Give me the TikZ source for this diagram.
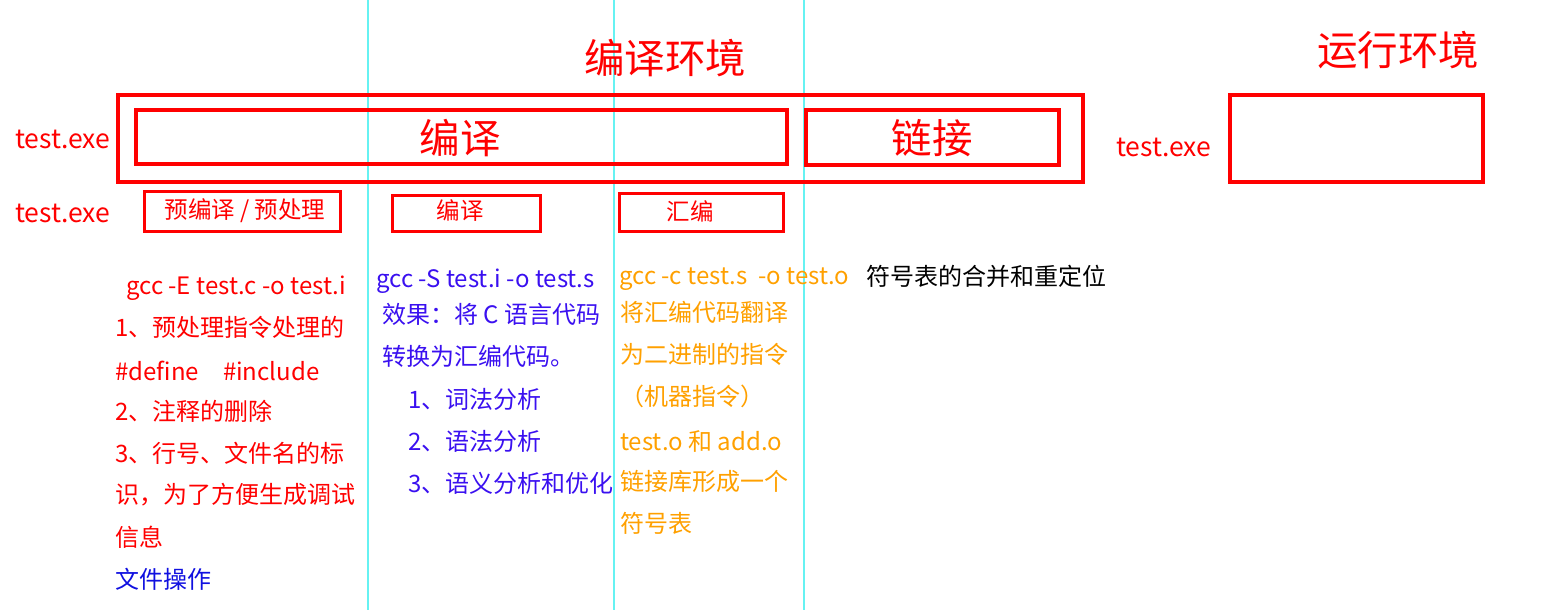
\documentclass[tikz,border=0pt]{standalone}
\usepackage{fontspec}
\setmainfont{Noto Sans CJK SC}
\definecolor{cred}{HTML}{FF0000}
\definecolor{cblue}{HTML}{3A10F0}
\definecolor{cpure}{HTML}{1010E0}
\definecolor{corange}{HTML}{FFA000}
\definecolor{ccyan}{HTML}{66F2F2}
\tikzset{
  guide/.style={draw=ccyan, line width=1.5pt},
  bigbox/.style={draw=cred, line width=4pt},
  midbox/.style={draw=cred, line width=3.5pt},
  smallbox/.style={draw=cred, line width=3pt},
  txt/.style={anchor=west, inner sep=0pt, font=\fontsize{24}{26}\selectfont},
  exe/.style={anchor=west, inner sep=0pt, text=cred, font=\fontsize{26.5}{28}\selectfont},
  stage/.style={inner sep=0pt, text=cred, font=\fontsize{23.5}{25}\selectfont},
  title/.style={inner sep=0pt, text=cred, font=\fontsize{40.5}{42}\selectfont},
}
\begin{document}
\begin{tikzpicture}[x=1pt,y=-1pt]
\useasboundingbox (0,0) rectangle (1545,610);
% guide lines
\coordinate (g1t) at (368,0); \coordinate (g1b) at (368,610);
\coordinate (g2t) at (614,0); \coordinate (g2b) at (614,610);
\coordinate (g3t) at (804,0); \coordinate (g3b) at (804,610);
\draw[guide] (g1t) -- (g1b);
\draw[guide] (g2t) -- (g2b);
\draw[guide] (g3t) -- (g3b);
% titles
\node[title] (t1) at (665,58) {编译环境};
\node[title] (t2) at (1398,50) {运行环境};
% boxes
\draw[bigbox] (118,95) rectangle (1083,182);
\draw[midbox] (136,110) rectangle (787,164);
\node[title] (bianyi) at (460,138) {编译};
\draw[midbox] (806,110) rectangle (1059,165);
\node[title] (lianjie) at (932,138) {链接};
\draw[bigbox] (1230,95) rectangle (1483,182);
% test.exe labels
\node[exe] (e1) at (15,139) {test.exe};
\node[exe] (e2) at (15,213) {test.exe};
\node[exe] (e3) at (1116,147) {test.exe};
% stage boxes
\draw[smallbox] (144,191) rectangle (340,231);
\node[stage] (s1) at (245,211) {预编译 / 预处理};
\draw[smallbox] (392,195) rectangle (540,231);
\node[stage] (s2) at (460,211) {编译};
\draw[smallbox] (619,193) rectangle (783,231);
\node[stage] (s3) at (690,211) {汇编};
% red column
\node[txt, text=cred] (r0) at (126,288) {gcc -E test.c -o test.i};
\node[txt, text=cred] (r1) at (115,327) {1、预处理指令处理的};
\node[txt, text=cred] (r2) at (115,371) {\#define\hspace{1em}\#include};
\node[txt, text=cred] (r3) at (115,411) {2、注释的删除};
\node[txt, text=cred] (r4) at (115,453) {3、行号、文件名的标};
\node[txt, text=cred] (r5) at (115,495) {识，为了方便生成调试};
\node[txt, text=cred] (r6) at (115,537) {信息};
\node[txt, text=cpure] (r7) at (115,579) {文件操作};
% blue column
\node[txt, text=cblue] (b0) at (376,281) {gcc -S test.i -o test.s};
\node[txt, text=cblue] (b1) at (382,314) {效果：将 C 语言代码};
\node[txt, text=cblue] (b2) at (382,356) {转换为汇编代码。};
\node[txt, text=cblue] (b3) at (408,399) {1、词法分析};
\node[txt, text=cblue] (b4) at (408,441) {2、语法分析};
\node[txt, text=cblue] (b5) at (408,483) {3、语义分析和优化};
% orange column
\node[txt, text=corange] (o0) at (619,279) {gcc -c test.s\ \ -o test.o};
\node[txt, text=corange] (o1) at (620,312) {将汇编代码翻译};
\node[txt, text=corange] (o2) at (620,354) {为二进制的指令};
\node[txt, text=corange] (o3) at (620,396) {（机器指令）};
\node[txt, text=corange] (o4) at (620,441) {test.o 和 add.o};
\node[txt, text=corange] (o5) at (620,481) {链接库形成一个};
\node[txt, text=corange] (o6) at (620,523) {符号表};
% black
\node[txt, text=black] (k0) at (866,276) {符号表的合并和重定位};
\end{tikzpicture}
\end{document}
